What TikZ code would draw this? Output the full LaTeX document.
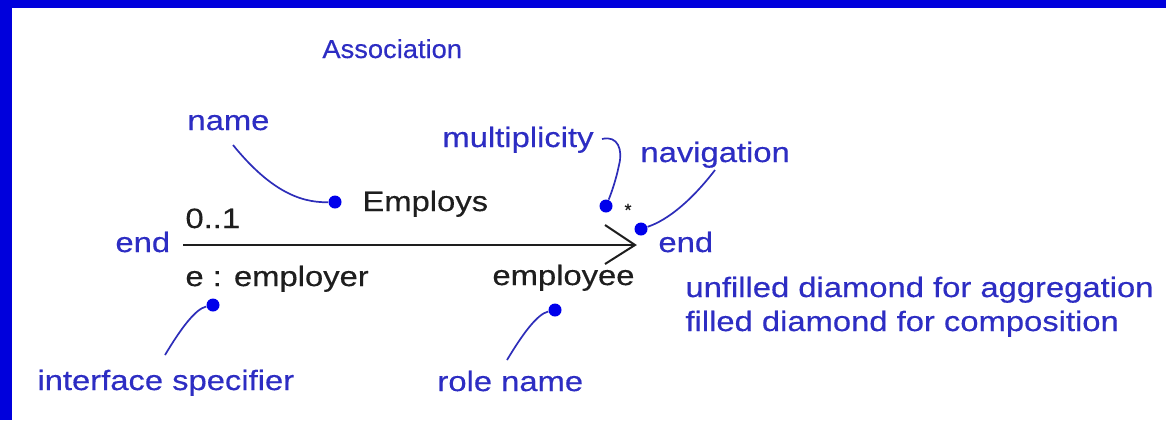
\documentclass[tikz,border=0pt]{standalone}
\usepackage{fontspec}
\setmainfont{Liberation Sans}
\newfontface\diagface{Liberation Sans}[FakeBold=0.35]
\usetikzlibrary{calc}
\definecolor{frameblue}{RGB}{0,0,220}
\definecolor{labelblue}{RGB}{45,45,195}
\definecolor{leadblue}{RGB}{45,45,185}
\definecolor{dotblue}{RGB}{0,0,235}
\definecolor{ink}{RGB}{30,30,30}
\newcommand\diagfont{\diagface\fontsize{14pt}{17pt}\selectfont}
\newcommand\titlefont{\diagface\fontsize{13pt}{16pt}\selectfont}
\begin{document}
\begin{tikzpicture}[x=0.5pt,y=-0.5pt,
  lbl/.style={anchor=base west,inner sep=0pt,text=labelblue,font=\diagfont,xscale=1.17},
  txt/.style={anchor=base west,inner sep=0pt,text=ink,font=\diagfont,xscale=1.17},
  tiny/.style={inner sep=0pt,text=ink,font=\diagface\fontsize{9pt}{10pt}\selectfont},
  dot/.style={circle,fill=dotblue,inner sep=0pt,minimum size=6.5pt},
  lead/.style={draw=leadblue,line width=0.85pt},
  assoc/.style={draw=ink,line width=1pt}]
\useasboundingbox (0,0) rectangle (1166,420);
% frame
\fill[frameblue] (0,0) rectangle (1166,420);
\fill[white] (12,8) rectangle (1166,420);

% title
\node[lbl,font=\titlefont,xscale=1.05/1.17] (assoc) at (322,58) {Association};

% the association itself
\coordinate (aL) at (183,245);
\coordinate (aR) at (635,245);
\draw[assoc] (aL) -- (aR);
\draw[assoc,line join=miter] ($(aR)+(-30,-20)$) -- (aR) -- ($(aR)+(-30,19)$);

% adornments of the association
\node[txt] (employs) at (362,211) {Employs};
\node[txt] (mult01) at (185,228) {0..1};
\node[txt] (employer) at (185,286) {e : employer};
\node[txt] (employee) at (492,285) {employee};
\node[tiny] (ast) at (628,210) {*};

% explanatory labels
\node[lbl] (name) at (187,130) {name};
\node[lbl] (multi) at (442,147) {multiplicity};
\node[lbl] (nav) at (640,162) {navigation};
\node[lbl] (endL) at (115,252) {end};
\node[lbl] (endR) at (658,252) {end};
\node[lbl] (agg) at (685,297) {unfilled diamond for aggregation};
\node[lbl] (comp) at (685,331) {filled diamond for composition};
\node[lbl] (iface) at (37,390) {interface specifier};
\node[lbl] (role) at (437,391) {role name};

% leader dots
\node[dot] (dName) at (335,202) {};
\node[dot] (dMult) at (606,206) {};
\node[dot] (dNav) at (641,229) {};
\node[dot] (dIface) at (213,305) {};
\node[dot] (dRole) at (555,310) {};

% leader lines
\coordinate (nameT) at (233,145);
\coordinate (multT) at (602,139);
\coordinate (navT) at (715,170);
\coordinate (ifaceT) at (165,355);
\coordinate (roleT) at (507,360);
\draw[lead] (nameT) .. controls (268,188) and (298,203) .. (dName);
\draw[lead] (multT) .. controls (618,135) and (623,150) .. (619,165)
                    .. controls (616,180) and (611,194) .. (dMult);
\draw[lead] (navT) .. controls (692,200) and (668,220) .. (dNav);
\draw[lead] (ifaceT) .. controls (180,330) and (195,309) .. (dIface);
\draw[lead] (roleT) .. controls (522,335) and (537,314) .. (dRole);
\end{tikzpicture}
\end{document}
